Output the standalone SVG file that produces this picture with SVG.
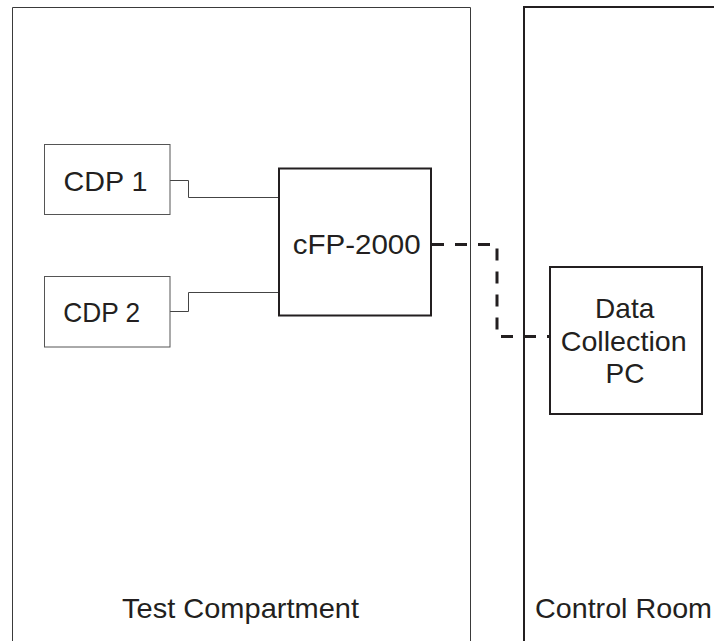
<svg xmlns="http://www.w3.org/2000/svg" width="714" height="641" viewBox="0 0 714 641">
<style>
  .room { fill: none; stroke: #3a3a3a; stroke-width: 1; }
  .room2 { fill: none; stroke: #231f20; stroke-width: 2; }
  .box { fill: #fff; stroke: #555; stroke-width: 1; }
  .box2 { fill: #fff; stroke: #231f20; stroke-width: 2; }
  .lbl { font-family: "Liberation Sans", Arial, sans-serif; font-size: 28px; fill: #231f20; text-anchor: middle; }
  .wire { fill: none; stroke: #444; stroke-width: 1; }
  .eth { fill: none; stroke: #231f20; stroke-width: 3; stroke-dasharray: 12 11; }
</style>
<rect width="714" height="641" fill="#fff"/>
<g id="test-compartment">
  <path class="room" d="M12.5 660 V7.5 H470.5 V660"/>
  <text class="lbl" x="240.5" y="617.5" textLength="237" lengthAdjust="spacingAndGlyphs">Test Compartment</text>
</g>
<g id="control-room">
  <path class="room2" d="M524 660 V7 H720"/>
  <text class="lbl" x="623.5" y="617.5" textLength="177" lengthAdjust="spacingAndGlyphs">Control Room</text>
</g>
<g id="connectors">
  <path class="wire" d="M170 180.5 H188.5 V197.5 H279"/>
  <path class="wire" d="M170 311.5 H188.5 V292.5 H279"/>
  <path class="eth" d="M432 244.5 H497 V336.5 H550"/>
</g>
<g id="cdp1">
  <rect class="box" x="44.5" y="144.5" width="125.5" height="70"/>
  <text class="lbl" x="105.5" y="190.5" textLength="84" lengthAdjust="spacingAndGlyphs">CDP 1</text>
</g>
<g id="cdp2">
  <rect class="box" x="44.5" y="276.5" width="125.5" height="70.5"/>
  <text class="lbl" x="101.7" y="322" textLength="77" lengthAdjust="spacingAndGlyphs">CDP 2</text>
</g>
<g id="cfp2000">
  <rect class="box2" x="279" y="168.5" width="152" height="147"/>
  <text class="lbl" x="356.7" y="254.3" textLength="128" lengthAdjust="spacingAndGlyphs">cFP-2000</text>
</g>
<g id="data-collection-pc">
  <rect class="box2" x="550" y="267" width="152" height="147"/>
  <text class="lbl" x="624.7" y="317.7">Data</text>
  <text class="lbl" x="623.7" y="350.7" textLength="126" lengthAdjust="spacingAndGlyphs">Collection</text>
  <text class="lbl" x="625" y="382.7">PC</text>
</g>
</svg>
